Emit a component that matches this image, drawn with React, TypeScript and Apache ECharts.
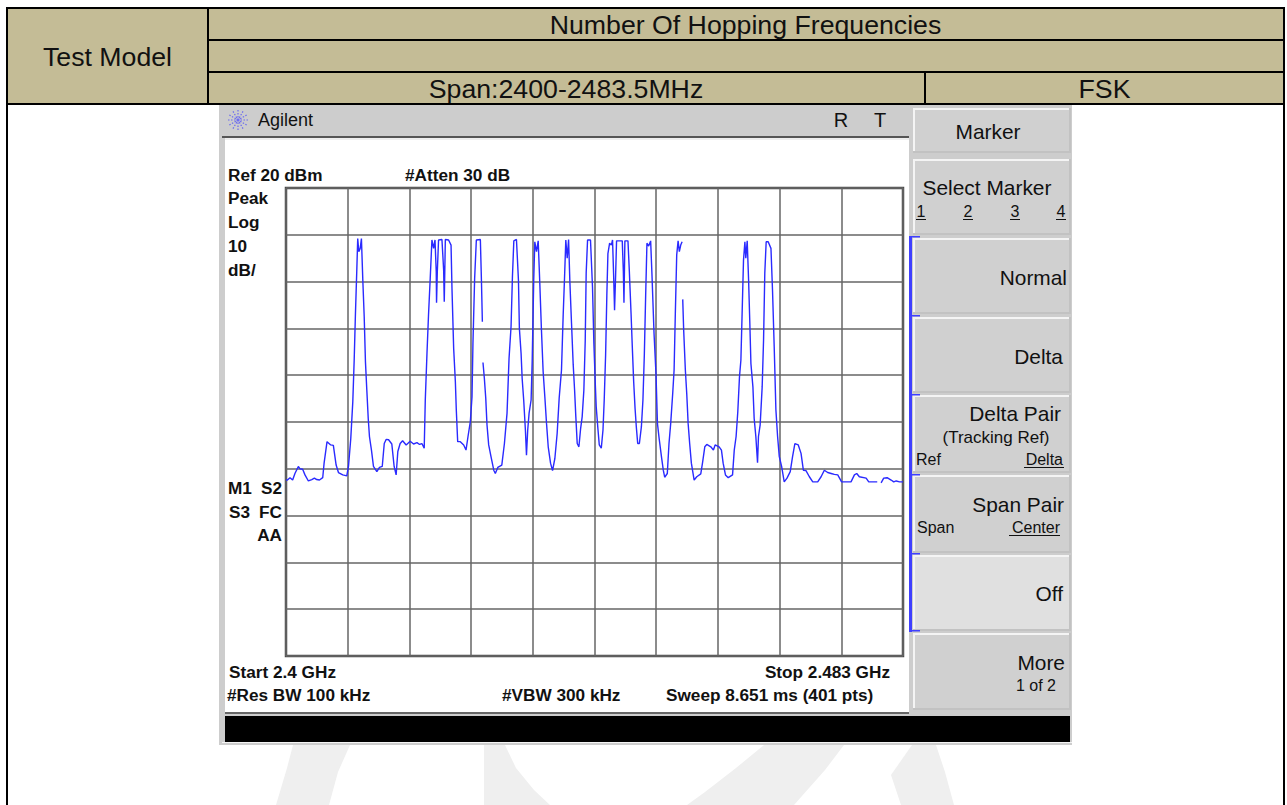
import React, { useEffect, useRef } from "react";
import * as echarts from "echarts";

// Sweep points (0-400) of the peak trace; null dBm marks breaks in the drawn trace.
const tracePoints: number[] = [
  0, 0.9, 2.6, 4.3, 5.8, 8.0, 9.1, 10.8, 12.3, 14.5, 16.7, 18.4, 19.9, 21.7, 23.8, 24.7, 26.6, 29.0, 30.7, 32.5, 34.0, 36.8, 39.4,
  40.5, 42.0, 43.3, 44.2, 45.0, 45.9, 46.5, 47.2, 48.1, 48.9, 49.8, 50.7, 51.5, 52.4, 53.3, 54.1, 55.4, 56.7, 58.9, 60.6, 62.4,
  63.7, 65.0, 66.5, 68.6, 70.1, 71.4, 72.5, 74.0, 75.6, 77.9, 80.5, 82.7, 84.9, 86.6, 88.1, 89.6, 90.3, 91.4, 92.4, 93.5, 94.6,
  95.7, 96.6, 97.4, 97.6, 98.1, 98.9, 101.1, 102.2, 102.6, 103.3, 105.4, 107.0, 107.6, 108.7, 109.8, 110.4, 111.3, 113.0, 115.2,
  116.7, 118.0, 119.5, 120.6, 121.2, 122.3, 123.4, 126.0, 126.7, 127.3, 127.5, 127.7, 128.6, 129.5, 130.3, 131.4, 132.9, 134.7,
  135.7, 137.3, 139.9, 141.6, 143.3, 144.6, 145.9, 146.8, 147.7, 149.4, 150.7, 151.3, 152.4, 153.1, 154.1, 155.2, 155.9, 156.7,
  157.6, 158.9, 159.6, 160.6, 161.3, 162.4, 163.5, 164.5, 165.6, 166.7, 167.8, 168.9, 170.0, 171.5, 172.8, 174.3, 175.8, 177.1,
  178.6, 179.7, 180.6, 181.4, 182.3, 183.2, 184.0, 185.1, 186.2, 187.1, 187.9, 188.8, 189.9, 191.0, 192.0, 193.1, 194.0, 194.6,
  195.5, 197.4, 198.7, 199.6, 200.5, 201.1, 202.2, 203.1, 204.4, 205.5, 206.3, 207.2, 208.0, 208.7, 209.8, 210.9, 211.7, 212.4,
  213.0, 213.7, 214.3, 218.0, 218.7, 219.1, 219.7, 221.7, 222.6, 223.7, 224.5, 225.4, 226.3, 227.1, 228.0, 229.1, 230.4, 231.4,
  232.3, 233.2, 234.0, 235.1, 236.4, 237.3, 238.6, 239.9, 240.8, 241.9, 243.4, 244.6, 245.5, 247.2, 248.3, 249.4, 250.7, 251.6,
  252.4, 253.3, 254.2, 255.0, 255.9, 256.8, 257.0, 257.2, 257.8, 258.9, 259.8, 260.7, 261.7, 262.8, 264.6, 266.3, 268.9, 270.0,
  271.5, 272.8, 275.4, 277.1, 278.2, 280.8, 282.3, 283.4, 284.9, 286.7, 289.5, 290.6, 291.8, 292.9, 294.0, 294.9, 295.7, 296.6,
  297.5, 298.1, 299.0, 299.9, 300.7, 301.4, 302.7, 303.5, 304.6, 305.7, 306.3, 307.4, 308.7, 309.6, 310.4, 311.3, 312.6, 314.4,
  315.4, 316.5, 317.6, 318.7, 319.8, 321.3, 323.0, 324.8, 326.9, 328.4, 329.9, 332.1, 333.9, 335.4, 337.1, 339.3, 341.5, 344.7,
  346.9, 349.0, 351.2, 353.4, 355.5, 357.7, 360.2, 366.3, 368.5, 370.0, 371.7, 376.1, 377.8, 383.3, 385.0, 385.8, 387.5, 389.7,
  392.3, 394.0, 395.6, 397.8, 400,
];
const traceDbm: (number | null)[] = [
  -42.4, -42.4, -41.9, -42.4, -41.0, -39.5, -40.0, -40.1, -41.3, -42.6, -42.3, -42.0, -42.3, -42.4, -41.9, -38.8, -34.2, -34.9, -35.0, -39.2, -40.8, -41.3, -41.5,
  -39.5, -33.5, -25.7, -16.8, -7.1, 2.5, 9.2, 6.4, 7.1, 9.2, 0.3, -7.5, -17.1, -23.2, -29.2, -33.1, -36.0, -39.5, -40.6, -39.7, -39.5,
  -34.6, -33.7, -33.8, -34.7, -39.5, -41.3, -36.3, -34.6, -34.0, -34.9, -34.1, -34.7, -34.4, -34.8, -34.6, -35.6, -25.3, -15.3, -7.1, 0.7, 8.9,
  7.1, 8.9, 2.1, -4.5, 2.1, 8.9, 9.0, 2.5, -4.3, 9.0, 8.9, 7.8, -1.4, -14.3, -21.4, -27.4, -34.2, -34.2, -34.9,
  -36.0, -33.1, -29.9, -24.6, -13.2, 0.7, 8.9, 9.0, 0.3, -8.6, null, -17.3, -20.7, -24.9, -30.6, -34.9, -37.4, -40.3,
  -41.0, -39.7, -39.2, -34.6, -28.1, -16.4, -9.6, 1.1, 8.7, 9.0, 0.3, -10.0, -15.3, -20.7, -25.3, -31.7, -37.1, -31.7,
  -28.1, -25.3, -17.1, 0.3, 8.5, 6.4, 8.7, 0.0, -10.3, -19.2, -24.6, -30.3, -35.3, -38.8, -40.4, -37.8, -32.4, -24.9,
  -18.9, -7.1, 1.1, 8.9, 5.0, 9.0, 0.3, -8.9, -17.8, -23.2, -28.9, -34.6, -35.3, -31.4, -28.9, -23.2, -12.5, 1.8,
  8.9, 8.9, -1.1, -13.2, -21.7, -26.7, -31.4, -34.9, -35.6, -31.7, -25.3, -15.7, -2.9, 6.0, 8.2, 7.8, 8.9, 1.4,
  -6.1, 1.4, 8.7, 8.7, 2.1, -4.5, 8.7, 8.7, 2.1, -6.8, -13.9, -21.4, -27.1, -31.0, -34.6, -34.6, -31.0, -25.3,
  -15.7, -2.5, 8.2, 7.6, 8.7, 1.1, -11.1, -20.0, -30.3, -33.5, -37.4, -40.3, -41.8, -41.0, -34.6, -30.3, -23.9, -18.9,
  -6.8, 5.7, 8.7, 6.4, 7.8, 8.5, null, -3.8, -10.3, -18.9, -23.9, -30.3, -34.6, -38.8, -42.4, -41.7, -41.1, -38.8,
  -35.3, -34.8, -35.3, -36.0, -34.9, -35.3, -36.0, -38.8, -41.3, -41.9, -41.3, -36.0, -33.1, -27.8, -20.3, -16.8, -6.8, 4.6,
  8.5, 5.0, 8.7, 0.3, -8.9, -17.5, -22.5, -29.2, -33.1, -38.7, -33.1, -30.6, -22.5, -12.5, 1.8, 8.5, 8.5, 7.1,
  -1.8, -13.9, -27.4, -33.1, -37.4, -39.5, -42.8, -42.0, -40.6, -37.4, -34.6, -34.9, -36.7, -40.3, -40.4, -41.7, -42.8, -42.8,
  -41.7, -40.3, -40.8, -41.0, -41.2, -41.3, -42.8, -42.8, -41.3, -41.0, -41.7, -42.0, -42.8, -42.8, null, -43.0, -42.0, -41.9,
  -42.4, -42.8, -42.6, -42.8, -42.8,
];

const headerTitle = "Number Of Hopping Frequencies";
const rowLabel = "Test Model";
const spanLabel = "Span:2400-2483.5MHz";
const modulation = "FSK";
const refLabel = "Ref 20 dBm";
const attenLabel = "#Atten 30 dB";
const startLabel = "Start 2.4 GHz";
const stopLabel = "Stop 2.483 GHz";
const rbwLabel = "#Res BW 100 kHz";
const vbwLabel = "#VBW 300 kHz";
const sweepLabel = "Sweep 8.651 ms (401 pts)";

const SANS = '"Liberation Sans", Arial, sans-serif';
const BEIGE = "#c4bc96";
const INK = "#111111";

function rect(x: number, y: number, w: number, h: number, fill: string): any {
  return { type: "rect", silent: true, shape: { x, y, width: w, height: h }, style: { fill } };
}
function poly(points: number[][], fill: string): any {
  return { type: "polygon", silent: true, shape: { points }, style: { fill } };
}
function txt(text: string, x: number, y: number, size: number, align = "left", bold = false, fill = INK): any {
  return {
    type: "text",
    silent: true,
    x,
    y,
    style: {
      text,
      fill,
      font: `${bold ? "bold " : ""}${size}px ${SANS}`,
      textAlign: align,
      textVerticalAlign: "middle",
    },
  };
}
function softkey(y0: number, y1: number, fill = "#d0d0d0"): any[] {
  return [
    rect(913, y0, 158, y1 - y0, "#c2c2c2"),
    rect(913, y0, 156, y1 - y0 - 2, "#f4f4f4"),
    rect(915, y0 + 2, 154, y1 - y0 - 4, fill),
  ];
}
function bracket(y0: number, y1: number): any[] {
  return [rect(909, y0, 3, y1 - y0, "#4040ff"), rect(909, y0, 11, 1.5, "#4040ff")];
}

function buildGraphic(): any[] {
  const g: any[] = [];
  // watermark
  const wm = "#efefef";
  g.push(poly([[293, 745], [350, 745], [338, 772], [329, 805], [276, 805], [287, 768]], wm));
  g.push(poly([[484, 745], [505, 745], [516, 768], [534, 790], [550, 805], [484, 805]], wm));
  g.push(poly([[764, 745], [844, 745], [825, 770], [794, 805], [687, 805], [705, 792], [736, 768]], wm));
  g.push(poly([[912, 745], [936, 745], [945, 772], [954, 805], [901, 805], [891, 775]], wm));

  // table
  g.push(rect(7, 8, 1277, 96, BEIGE));
  g.push(rect(6, 7, 2, 798, "#000"));
  g.push(rect(1283, 7, 2, 798, "#000"));
  g.push(rect(6, 7, 1279, 2, "#000"));
  g.push(rect(6, 103, 1279, 2, "#000"));
  g.push(rect(207, 7, 2, 97, "#000"));
  g.push(rect(207, 39, 1078, 2, "#000"));
  g.push(rect(207, 71, 1078, 2, "#000"));
  g.push(rect(924, 72, 2, 32, "#000"));
  g.push(txt(rowLabel, 107.5, 57, 26.7, "center"));
  g.push(txt(headerTitle, 745.5, 25, 26.7, "center"));
  g.push(txt(spanLabel, 566, 89, 26.7, "center"));
  g.push(txt(modulation, 1104.5, 89, 26.7, "center"));

  // instrument frame
  g.push(rect(219, 105, 853, 640, "#cdcdcd"));
  g.push(rect(225, 140, 684, 572, "#ffffff"));
  g.push(rect(222, 136, 687, 2, "#555555"));
  g.push(rect(225, 138, 684, 2, "#eeeeee"));
  g.push(rect(225, 712, 684, 2, "#666666"));
  g.push(rect(225, 716, 845, 26, "#000000"));
  g.push(rect(222, 742, 850, 1, "#f4f4f4"));

  // Agilent logo
  const cx = 238;
  const cy = 120;
  for (let i = 0; i < 12; i++) {
    const a = (i * Math.PI) / 6;
    g.push({
      type: "line",
      silent: true,
      shape: { x1: cx + 2.5 * Math.cos(a), y1: cy + 2.5 * Math.sin(a), x2: cx + 10 * Math.cos(a), y2: cy + 10 * Math.sin(a) },
      style: { stroke: "#6a6af0", lineWidth: 1.2, lineDash: [1.5, 1.5] },
    });
  }
  g.push(rect(236.5, 118.5, 3, 3, "#7070f0"));
  g.push(txt("Agilent", 258, 120, 18));
  g.push(txt("R", 841, 120, 20, "center"));
  g.push(txt("T", 880, 120, 20, "center"));

  // screen annotations
  const b = 17.2;
  g.push(txt(refLabel, 228, 175, b, "left", true));
  g.push(txt(attenLabel, 405, 175, b, "left", true));
  g.push(txt("Peak", 228, 198, b, "left", true));
  g.push(txt("Log", 228, 222, b, "left", true));
  g.push(txt("10", 228, 246, b, "left", true));
  g.push(txt("dB/", 228, 270, b, "left", true));
  g.push(txt("M1", 228, 488, b, "left", true));
  g.push(txt("S2", 282, 488, b, "right", true));
  g.push(txt("S3", 229, 512, b, "left", true));
  g.push(txt("FC", 282, 512, b, "right", true));
  g.push(txt("AA", 282, 535, b, "right", true));
  g.push(txt(startLabel, 229, 672, b, "left", true));
  g.push(txt(stopLabel, 890, 672, b, "right", true));
  g.push(txt(rbwLabel, 227, 695, b, "left", true));
  g.push(txt(vbwLabel, 502, 695, b, "left", true));
  g.push(txt(sweepLabel, 666, 695, b, "left", true));

  // softkeys
  g.push(...softkey(108, 153));
  g.push(...softkey(159, 235));
  g.push(...softkey(238, 314));
  g.push(...softkey(317, 393));
  g.push(...softkey(395, 473));
  g.push(...softkey(475, 553));
  g.push(...softkey(555, 631, "#e0e0e0"));
  g.push(...softkey(633, 710));
  g.push(...bracket(236, 315));
  g.push(...bracket(315, 394));
  g.push(...bracket(394, 474));
  g.push(...bracket(474, 553));
  g.push(...bracket(553, 632));
  g.push(rect(909, 630, 11, 1.5, "#4040ff"));

  const k = 20.9;
  const s = 16;
  g.push(txt("Marker", 988, 131, k, "center"));
  g.push(txt("Select Marker", 987, 187, k, "center"));
  [["1", 921], ["2", 968], ["3", 1015], ["4", 1061]].forEach(([t, x]) => {
    g.push(txt(t as string, x as number, 211, s, "center"));
    g.push(rect((x as number) - 5, 219, 10, 1, INK));
  });
  g.push(txt("Normal", 1067, 277, k, "right"));
  g.push(txt("Delta", 1063, 356, k, "right"));
  g.push(txt("Delta Pair", 1061, 413, k, "right"));
  g.push(txt("(Tracking Ref)", 996, 437, s + 1, "center"));
  g.push(txt("Ref", 916, 459, s));
  g.push(txt("Delta", 1063, 459, s, "right"));
  g.push(rect(1024, 467, 40, 1, INK));
  g.push(txt("Span Pair", 1064, 504, k, "right"));
  g.push(txt("Span", 917, 527, s));
  g.push(txt("Center", 1060, 527, s, "right"));
  g.push(rect(1009, 535, 51, 1, INK));
  g.push(txt("Off", 1063, 593, k, "right"));
  g.push(txt("More", 1065, 662, k, "right"));
  g.push(txt("1 of 2", 1056, 685, s, "right"));
  return g;
}

export default function App() {
  const ref = useRef<HTMLDivElement>(null);
  useEffect(() => {
    document.body.style.margin = "0";
    const chart = echarts.init(ref.current!, undefined, { renderer: "svg" });
    const axisLine = { show: false };
    const split = { show: true, lineStyle: { color: "#666666", width: 1.5 } };
    chart.setOption({
      animation: false,
      backgroundColor: "#ffffff",
      tooltip: { show: false },
      legend: { show: false },
      graphic: { elements: buildGraphic() },
      grid: {
        left: 286,
        top: 188,
        width: 617,
        height: 468,
        show: true,
        z: 4,
        backgroundColor: "#ffffff",
        borderColor: "#4a4a4a",
        borderWidth: 2.5,
      },
      xAxis: {
        type: "value",
        min: 0,
        max: 400,
        interval: 40,
        z: 5,
        axisLine,
        axisTick: { show: false },
        axisLabel: { show: false },
        splitLine: split,
      },
      yAxis: {
        type: "value",
        min: -80,
        max: 20,
        interval: 10,
        z: 5,
        axisLine,
        axisTick: { show: false },
        axisLabel: { show: false },
        splitLine: split,
      },
      series: [
        {
          type: "line",
          z: 8,
          showSymbol: false,
          symbol: "none",
          silent: true,
          connectNulls: false,
          lineStyle: { color: "#2a2aff", width: 1.4 },
          data: tracePoints.map((x, i) => [x, traceDbm[i]]),
        },
      ],
    });
    return () => chart.dispose();
  }, []);
  return <div ref={ref} style={{ width: 1287, height: 805, position: "absolute", left: 0, top: 0 }} />;
}
